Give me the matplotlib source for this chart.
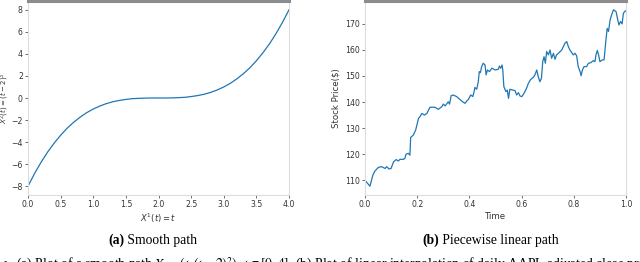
import matplotlib
matplotlib.use("Agg")
import matplotlib.pyplot as plt

# smooth path, values
path_t = [0.0, 0.1, 0.2, 0.3, 0.4, 0.5, 0.6, 0.7, 0.8, 0.9, 1.0,
          1.1, 1.2, 1.3, 1.4, 1.5, 1.6, 1.7, 1.8, 1.9, 2.0,
          2.1, 2.2, 2.3, 2.4, 2.5, 2.6, 2.7, 2.8, 2.9, 3.0,
          3.1, 3.2, 3.3, 3.4, 3.5, 3.6, 3.7, 3.8, 3.9, 4.0]
path_x2 = [-8.0, -6.86, -5.83, -4.91, -4.10, -3.38, -2.74, -2.20, -1.73, -1.33, -1.0,
           -0.73, -0.51, -0.34, -0.22, -0.13, -0.06, -0.03, -0.01, 0.0, 0.0,
           0.0, 0.01, 0.03, 0.06, 0.13, 0.22, 0.34, 0.51, 0.73, 1.0,
           1.33, 1.73, 2.20, 2.74, 3.38, 4.10, 4.91, 5.83, 6.86, 8.0]

# AAPL adjusted close, time rescaled to [0, 1]
stock_t = [0.0, 0.008, 0.019, 0.03, 0.038, 0.051, 0.064, 0.077, 0.083, 0.092, 0.1,
           0.109, 0.119, 0.128, 0.134, 0.147, 0.153, 0.157, 0.166, 0.172, 0.175,
           0.185, 0.194, 0.205, 0.21, 0.218, 0.228, 0.237, 0.249, 0.268, 0.281,
           0.294, 0.3, 0.307, 0.319, 0.324, 0.33, 0.338, 0.351, 0.364, 0.374,
           0.383, 0.39, 0.396, 0.405, 0.413, 0.418, 0.421, 0.428, 0.434, 0.438,
           0.442, 0.447, 0.453, 0.46, 0.464, 0.469, 0.477, 0.486, 0.499, 0.511,
           0.515, 0.52, 0.525, 0.528, 0.532, 0.54, 0.545, 0.55, 0.555, 0.566,
           0.575, 0.581, 0.588, 0.594, 0.601, 0.609, 0.619, 0.626, 0.635, 0.645,
           0.651, 0.658, 0.664, 0.67, 0.676, 0.681, 0.686, 0.691, 0.696, 0.703,
           0.709, 0.715, 0.722, 0.728, 0.734, 0.741, 0.754, 0.766, 0.773, 0.779,
           0.785, 0.792, 0.798, 0.805, 0.811, 0.817, 0.824, 0.828, 0.833, 0.839,
           0.849, 0.856, 0.865, 0.875, 0.881, 0.885, 0.89, 0.895, 0.9, 0.91,
           0.916, 0.923, 0.928, 0.933, 0.939, 0.945, 0.952, 0.962, 0.967, 0.973,
           0.979, 0.985, 0.99, 0.995, 1.0]
stock_price = [110.0, 109.0, 107.7, 111.9, 113.5, 114.9, 115.2, 114.5, 115.2, 114.3, 114.5,
               117.0, 117.9, 117.4, 118.0, 118.0, 118.4, 120.0, 120.3, 119.6, 126.4,
               127.3, 129.2, 133.7, 134.3, 135.6, 135.0, 135.6, 138.0, 138.0, 137.2,
               138.2, 139.2, 138.5, 140.1, 139.2, 142.4, 142.7, 142.1, 141.0, 140.1,
               139.5, 140.4, 141.0, 142.7, 142.1, 144.0, 145.6, 144.9, 147.8, 151.7,
               151.3, 153.6, 154.9, 154.2, 150.4, 152.3, 151.7, 153.0, 152.3, 152.6,
               153.8, 153.0, 154.2, 152.3, 145.9, 144.0, 144.6, 141.4, 144.9, 144.6,
               144.4, 142.7, 143.6, 142.3, 142.1, 143.3, 145.3, 147.2, 148.7, 149.5,
               150.4, 152.3, 149.7, 147.8, 149.1, 155.5, 157.4, 154.9, 159.4, 158.1,
               160.0, 156.8, 158.7, 156.4, 158.1, 158.7, 160.0, 162.6, 163.2, 161.3,
               160.0, 159.0, 158.1, 158.7, 157.7, 153.6, 151.7, 150.1, 152.3, 153.6,
               153.6, 154.9, 155.1, 155.9, 155.5, 158.1, 159.8, 158.1, 155.5, 156.2,
               156.2, 163.8, 168.3, 167.1, 171.5, 173.5, 175.4, 174.7, 172.2, 169.6,
               170.9, 170.0, 174.1, 174.7, 175.1]

line_color = '#1f77b4'
spine_light = '#dcdcdc'
serif = 'Liberation Serif'

fig = plt.figure(figsize=(6.4, 2.62), dpi=100)
ax1 = fig.add_axes([28 / 640, 67 / 262, 261 / 640, 194 / 262])
ax2 = fig.add_axes([365 / 640, 67 / 262, 261 / 640, 194 / 262])


def style_axes(ax):
    for side in ['left', 'bottom', 'right']:
        ax.spines[side].set_color(spine_light)
        ax.spines[side].set_linewidth(0.8)
    ax.spines['top'].set_color('#8c8c8c')
    ax.spines['top'].set_linewidth(2.2)
    ax.tick_params(length=2.2, width=0.6, color='#555555', labelsize=5.6,
                   labelcolor='#333333', pad=1.5)


ax1.plot(path_t, path_x2, color=line_color, lw=0.9)
ax1.set_xlim(0, 4)
ax1.set_xticks([0, 0.5, 1.0, 1.5, 2.0, 2.5, 3.0, 3.5, 4.0])
ax1.set_yticks([-8, -6, -4, -2, 0, 2, 4, 6, 8])
ax1.set_xlabel('$X^1(t) = t$', fontsize=6.0, color='#333333', labelpad=2)
ax1.set_ylabel('$X^2(t) = (t-2)^3$', fontsize=5.0, color='#333333')
ax1.yaxis.set_label_coords(-0.064, 0.5)
style_axes(ax1)

ax2.plot(stock_t, stock_price, color=line_color, lw=0.9)
ax2.set_xlim(0, 1)
ax2.set_xticks([0, 0.2, 0.4, 0.6, 0.8, 1.0])
ax2.set_yticks([110, 120, 130, 140, 150, 160, 170])
ax2.set_xlabel('Time', fontsize=6.2, color='#333333', labelpad=2)
ax2.set_ylabel('Stock Price(\\$)', fontsize=6.2, color='#333333', labelpad=3)
style_axes(ax2)

# sub-captions below each panel: bold tag followed by plain text
cap_y = 1 - 244 / 262
for x0, tag, rest in [(108 / 640, '(a)', ' Smooth path'),
                      (422 / 640, '(b)', ' Piecewise linear path')]:
    t1 = fig.text(x0, cap_y, tag, family=serif, weight='bold', fontsize=9.8,
                  va='baseline')
    ax1.annotate(rest, xy=(1, 0), xycoords=t1, va='bottom', ha='left',
                 family=serif, fontsize=9.8, annotation_clip=False)

# figure caption, cut off at the bottom edge of the picture as in the source
cap2_y = -9 / 262
t3 = fig.text(0.003, cap2_y, '1:', family=serif, weight='bold', fontsize=9.8,
              va='baseline')
ax1.annotate(' (a) Plot of a smooth path $X_t = (t, (t-2)^2)$, $t \\in [0, 4]$. '
             '(b) Plot of linear interpolation of daily AAPL adjusted close prices',
             xy=(1, 0), xycoords=t3, va='bottom', ha='left', family=serif,
             fontsize=9.8, math_fontfamily='stix', annotation_clip=False)

fig.savefig('out.png', dpi=100)
